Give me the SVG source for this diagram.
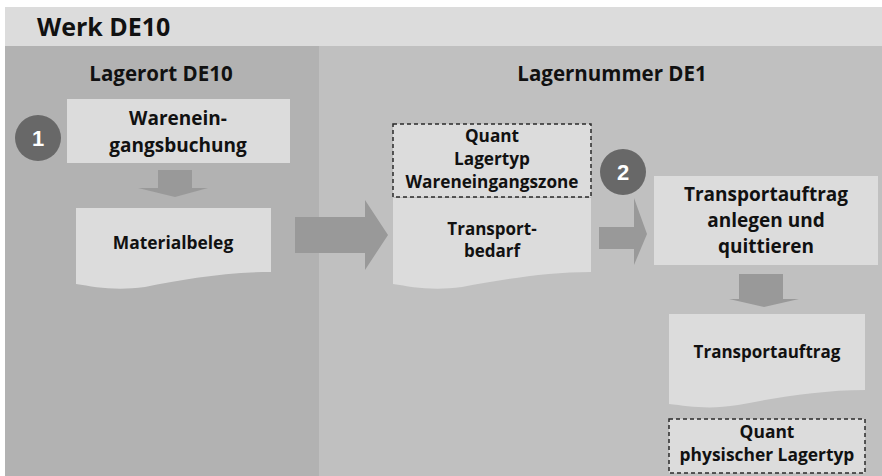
<svg xmlns="http://www.w3.org/2000/svg" width="882" height="476" viewBox="0 0 882 476">
<style>
.t{font-family:"Open Sans","Noto Sans","Liberation Sans",sans-serif;font-weight:700;fill:#111;text-anchor:middle}
.box{fill:#dcdcdc}
.dash{fill:#dcdcdc;stroke:#2a2a2a;stroke-width:1.5;stroke-dasharray:4 3}
.arr{fill:#999999}
.num{fill:#686868}
.numt{font-family:"Liberation Sans",Arial,sans-serif;font-weight:700;font-size:22px;fill:#fff;text-anchor:middle}
</style>
<rect x="0" y="0" width="882" height="476" fill="#ffffff"/>
<g id="werk">
<rect x="5" y="7" width="877" height="39" fill="#dcdcdc"/>
<text class="t" x="37" y="36" style="font-size:25px;text-anchor:start">Werk DE10</text>
</g>
<g id="lagerort">
<rect x="5" y="46" width="314" height="430" fill="#b2b2b2"/>
<text class="t" x="161" y="81" style="font-size:20.5px">Lagerort DE10</text>
</g>
<g id="lagernummer">
<rect x="319" y="46" width="563" height="430" fill="#c0c0c0"/>
<text class="t" x="612" y="81" style="font-size:20.5px">Lagernummer DE1</text>
</g>
<g id="connectors">
<polygon class="arr" points="158,170 192,170 192,188 208,188 175,197 138,188 158,188"/>
<polygon class="arr" points="295,217 365,217 365,200 388,235 365,270 365,253 295,253"/>
<polygon class="arr" points="599,227 634,227 634,198 647,234 634,265 634,249 599,249"/>
<polygon class="arr" points="739,274 783,274 783,299 799,299 764,307 729,299 739,299"/>
</g>
<g id="step1">
<circle class="num" cx="38" cy="138" r="23"/>
<text class="numt" x="38" y="146">1</text>
</g>
<g id="wareneingangsbuchung">
<rect class="box" x="67" y="99" width="223" height="64"/>
<text class="t" x="178" y="125" style="font-size:19px">Warenein-</text>
<text class="t" x="178" y="152" style="font-size:19px">gangsbuchung</text>
</g>
<g id="materialbeleg">
<path class="box" d="M76,208 H271 V272 C225,272 180,280 145,287 C115,291 95,287 76,284 Z"/>
<text class="t" x="173" y="249" style="font-size:17.4px">Materialbeleg</text>
</g>
<g id="quant1">
<rect class="dash" x="393" y="124" width="198" height="73"/>
<text class="t" x="492" y="142" style="font-size:17.2px">Quant</text>
<text class="t" x="492" y="165" style="font-size:17.2px">Lagertyp</text>
<text class="t" x="492" y="188" style="font-size:17.2px">Wareneingangszone</text>
</g>
<g id="transportbedarf">
<path class="box" d="M393,198 H591 V272 C545,272 500,280 462,287 C432,291 412,287 393,284 Z"/>
<text class="t" x="492" y="235" style="font-size:17px">Transport-</text>
<text class="t" x="492" y="257" style="font-size:17px">bedarf</text>
</g>
<g id="step2">
<circle class="num" cx="623" cy="172" r="23"/>
<text class="numt" x="623" y="180">2</text>
</g>
<g id="ta-anlegen">
<rect class="box" x="654" y="176" width="224" height="89"/>
<text class="t" x="766" y="201" style="font-size:19px">Transportauftrag</text>
<text class="t" x="766" y="227" style="font-size:19px">anlegen und</text>
<text class="t" x="766" y="253" style="font-size:19px">quittieren</text>
</g>
<g id="transportauftrag">
<path class="box" d="M669,314 H865 V390 C820,390 775,398 738,405 C708,410 688,406 669,404 Z"/>
<text class="t" x="767" y="358" style="font-size:17px">Transportauftrag</text>
</g>
<g id="quant2">
<rect class="dash" x="669" y="419" width="196" height="54"/>
<text class="t" x="767" y="438" style="font-size:17.4px">Quant</text>
<text class="t" x="767" y="461" style="font-size:17.4px">physischer Lagertyp</text>
</g>
</svg>
